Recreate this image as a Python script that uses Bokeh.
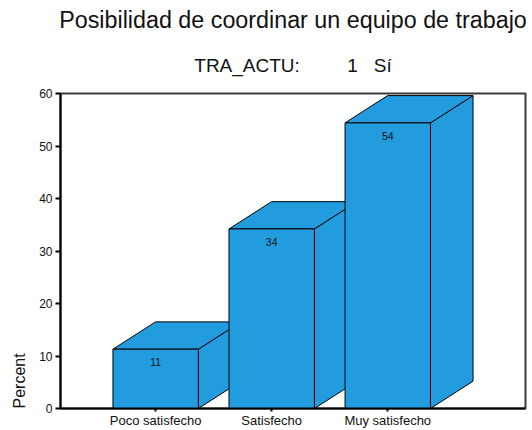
from bokeh.plotting import figure
from bokeh.models import Range1d, FixedTicker, Title
from bokeh.core.properties import value
from bokeh.embed import file_html
from bokeh.resources import INLINE

# ---- data ----
categories = ["Poco satisfecho", "Satisfecho", "Muy satisfecho"]
percent = [11.3, 34.2, 54.4]
value_labels = ["11", "34", "54"]
y_ticks = [0, 10, 20, 30, 40, 50, 60]
title_text = "Posibilidad de coordinar un equipo de trabajo"
subtitle_text = "TRA_ACTU:" + "\u00a0" * 9 + "1" + "\u00a0" * 3 + "Sí"
y_label = "Percent"

# ---- style ----
FONT = "Liberation Sans"
BLUE = "#229cde"
BAR_W = 0.736     # bar width in category units
DX = 0.367        # 3D depth, x units
DY = 5.2          # 3D depth, y units

p = figure(width=532, height=430, output_backend="svg", toolbar_location=None,
           x_range=Range1d(-0.82, 3.187), y_range=Range1d(0, 60),
           min_border_left=59, min_border_right=7, min_border_top=93,
           min_border_bottom=18)
p.background_fill_color = "white"
p.border_fill_color = "white"
p.outline_line_color = "#3a3a3a"
p.outline_line_width = 2
p.xgrid.visible = False
p.ygrid.visible = False

xs = list(range(len(categories)))

side_xs, side_ys, top_xs, top_ys = [], [], [], []
for i, v in zip(xs, percent):
    r = i + BAR_W / 2
    l = i - BAR_W / 2
    side_xs.append([r, r + DX, r + DX, r])
    side_ys.append([0, DY, v + DY, v])
    top_xs.append([l, r, r + DX, l + DX])
    top_ys.append([v, v, v + DY, v + DY])

p.patches(side_xs, side_ys, fill_color=BLUE, line_color="black", line_width=1)
p.patches(top_xs, top_ys, fill_color=BLUE, line_color="black", line_width=1)
p.quad(left=[i - BAR_W / 2 for i in xs], right=[i + BAR_W / 2 for i in xs],
       bottom=[0] * len(xs), top=percent,
       fill_color=BLUE, line_color="black", line_width=1)

p.text(x=xs, y=percent, text=value_labels, text_align="center",
       text_baseline="middle", y_offset=13, text_font=value(FONT),
       text_font_size="10.5px", text_color="#111111")

# axes
p.xaxis.ticker = FixedTicker(ticks=xs)
p.xaxis.major_label_overrides = {i: c for i, c in zip(xs, categories)}
p.xaxis.major_label_text_font = FONT
p.xaxis.major_label_text_font_size = "13px"
p.xaxis.major_label_text_color = "#111111"
p.xaxis.major_label_standoff = 1
p.xaxis.major_tick_out = 3
p.xaxis.major_tick_in = 0
p.xaxis.major_tick_line_width = 2
p.xaxis.minor_tick_line_color = None
p.xaxis.axis_line_width = 2
p.xaxis.axis_line_color = "black"

p.yaxis.ticker = FixedTicker(ticks=y_ticks)
p.yaxis.major_label_text_font = FONT
p.yaxis.major_label_text_font_size = "12px"
p.yaxis.major_label_text_color = "#111111"
p.yaxis.major_label_standoff = 3
p.yaxis.major_tick_out = 5
p.yaxis.major_tick_in = 0
p.yaxis.major_tick_line_width = 2
p.yaxis.minor_tick_line_color = None
p.yaxis.axis_line_width = 2
p.yaxis.axis_line_color = "black"

# titles (first added sits nearest the frame)
p.add_layout(Title(text=subtitle_text, align="center", text_font=FONT,
                   text_font_size="19px", text_font_style="normal",
                   text_color="#111111", standoff=36), "above")
p.add_layout(Title(text=title_text, align="center", text_font=FONT,
                   text_font_size="23.3px", text_font_style="normal",
                   text_color="#111111", standoff=2.4), "above")
p.add_layout(Title(text=y_label, align="left", text_font=FONT,
                   text_font_size="16px", text_font_style="normal",
                   text_color="#111111", standoff=17), "left")

open("out.html", "w").write(file_html(p, INLINE))
